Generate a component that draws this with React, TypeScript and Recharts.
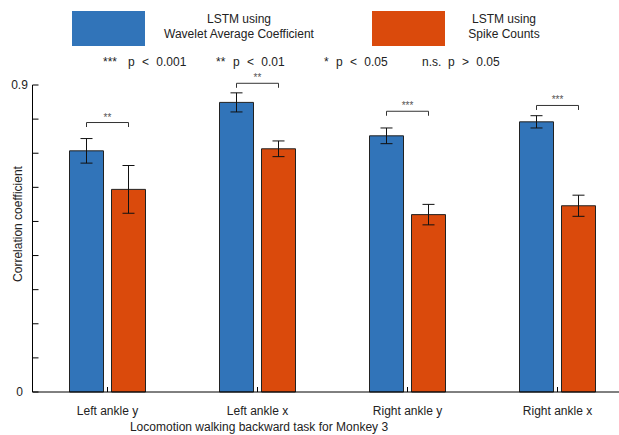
import { Bar, BarChart, ErrorBar, Rectangle, XAxis, YAxis } from "recharts";

const joints = ["Left ankle y", "Left ankle x", "Right ankle y", "Right ankle x"];
const waveletMean = [0.707, 0.849, 0.751, 0.792];
const waveletErr = [0.036, 0.028, 0.023, 0.018];
const spikeMean = [0.594, 0.713, 0.52, 0.546];
const spikeErr = [0.07, 0.023, 0.03, 0.031];
const bracketLevel = [0.79, 0.905, 0.823, 0.84];
const bracketStars = ["**", "**", "***", "***"];
const yTicks = [0, 0.1, 0.2, 0.3, 0.4, 0.5, 0.6, 0.7, 0.8, 0.9];
const yTickLabels = ["0", "0.9"];

const BLUE = "#3174b9";
const ORANGE = "#da4a0c";
const BAR_GAP = 8;
const font = "'Liberation Sans', Arial, sans-serif";

const data = joints.map((joint, i) => ({
  joint,
  wavelet: waveletMean[i],
  waveletErr: waveletErr[i],
  spike: spikeMean[i],
  spikeErr: spikeErr[i],
  bracket: bracketLevel[i],
  stars: bracketStars[i],
}));

// orange bar + significance bracket spanning back to the blue bar's centre
function SpikeBar(props: any) {
  const { x, y, width, height, payload } = props;
  const pxPerUnit = height / payload.spike;
  const by = y + height - payload.bracket * pxPerUnit;
  const right = x + width / 2;
  const left = right - width - BAR_GAP;
  return (
    <g>
      <Rectangle {...props} />
      <path
        d={`M${left},${by + 4.5}V${by}H${right}V${by + 4.5}`}
        stroke="#333"
        strokeWidth={1}
        fill="none"
      />
      <text
        x={(left + right) / 2}
        y={by - 2}
        textAnchor="middle"
        fontSize={10}
        fill="#555"
        fontFamily={font}
      >
        {payload.stars}
      </text>
    </g>
  );
}

const abs = (style: React.CSSProperties): React.CSSProperties => ({
  position: "absolute",
  ...style,
});

export default function App() {
  return (
    <div
      style={{
        position: "absolute",
        left: 0,
        top: 0,
        width: 619,
        height: 435,
        overflow: "hidden",
        background: "#fff",
        fontFamily: font,
        color: "#222",
        fontSize: 12,
      }}
    >
      <BarChart
        width={660}
        height={435}
        data={data}
        margin={{ top: 85, right: 27.5, bottom: 42, left: 31.5 }}
        barGap={BAR_GAP}
        barSize={34}
      >
        <XAxis
          dataKey="joint"
          height={1}
          tickSize={-5}
          tickMargin={19}
          axisLine={{ stroke: "#000" }}
          tickLine={{ stroke: "#000" }}
          tick={{ fill: "#222", fontSize: 12, fontFamily: font }}
          interval={0}
        />
        <YAxis
          width={1}
          domain={[0, 0.9]}
          ticks={yTicks}
          tickSize={-6}
          tickMargin={19}
          axisLine={{ stroke: "#000" }}
          tickLine={{ stroke: "#000" }}
          tick={{ fill: "#222", fontSize: 12, fontFamily: font, textAnchor: "middle" }}
          tickFormatter={(v: number) => {
            const s = String(Math.round(v * 10) / 10);
            return yTickLabels.includes(s) ? s : "";
          }}
        />
        <Bar dataKey="wavelet" fill={BLUE} stroke="#222" strokeWidth={1} isAnimationActive={false}>
          <ErrorBar dataKey="waveletErr" width={6} stroke="#111" strokeWidth={1} isAnimationActive={false} />
        </Bar>
        <Bar
          dataKey="spike"
          fill={ORANGE}
          stroke="#222"
          strokeWidth={1}
          shape={SpikeBar}
          isAnimationActive={false}
        >
          <ErrorBar dataKey="spikeErr" width={6} stroke="#111" strokeWidth={1} isAnimationActive={false} />
        </Bar>
      </BarChart>

      {/* legend */}
      <div style={abs({ left: 72, top: 11, width: 73, height: 35, background: BLUE })} />
      <div style={abs({ left: 139, top: 12, width: 200, textAlign: "center", lineHeight: "15px" })}>
        LSTM using
        <br />
        Wavelet Average Coefficient
      </div>
      <div style={abs({ left: 372, top: 11, width: 73, height: 35, background: ORANGE })} />
      <div style={abs({ left: 404, top: 12, width: 200, textAlign: "center", lineHeight: "15px" })}>
        LSTM using
        <br />
        Spike Counts
      </div>

      {/* significance key */}
      <div style={abs({ left: 103, top: 54, lineHeight: "16px" })}>***</div>
      <div style={abs({ left: 128, top: 54, lineHeight: "16px", wordSpacing: 4 })}>p &lt; 0.001</div>
      <div style={abs({ left: 216, top: 54, lineHeight: "16px" })}>**</div>
      <div style={abs({ left: 233, top: 54, lineHeight: "16px", wordSpacing: 4 })}>p &lt; 0.01</div>
      <div style={abs({ left: 324, top: 54, lineHeight: "16px" })}>*</div>
      <div style={abs({ left: 336, top: 54, lineHeight: "16px", wordSpacing: 4 })}>p &lt; 0.05</div>
      <div style={abs({ left: 422, top: 54, lineHeight: "16px" })}>n.s.</div>
      <div style={abs({ left: 448, top: 54, lineHeight: "16px", wordSpacing: 4 })}>p &gt; 0.05</div>

      {/* axis titles */}
      <div style={abs({ left: 59, top: 420, width: 400, textAlign: "center", lineHeight: "14px" })}>
        Locomotion walking backward task for Monkey 3
      </div>
      <div
        style={abs({
          left: 18 - 100,
          top: 224 - 7,
          width: 200,
          textAlign: "center",
          lineHeight: "14px",
          transform: "rotate(-90deg)",
        })}
      >
        Correlation coefficient
      </div>
    </div>
  );
}
